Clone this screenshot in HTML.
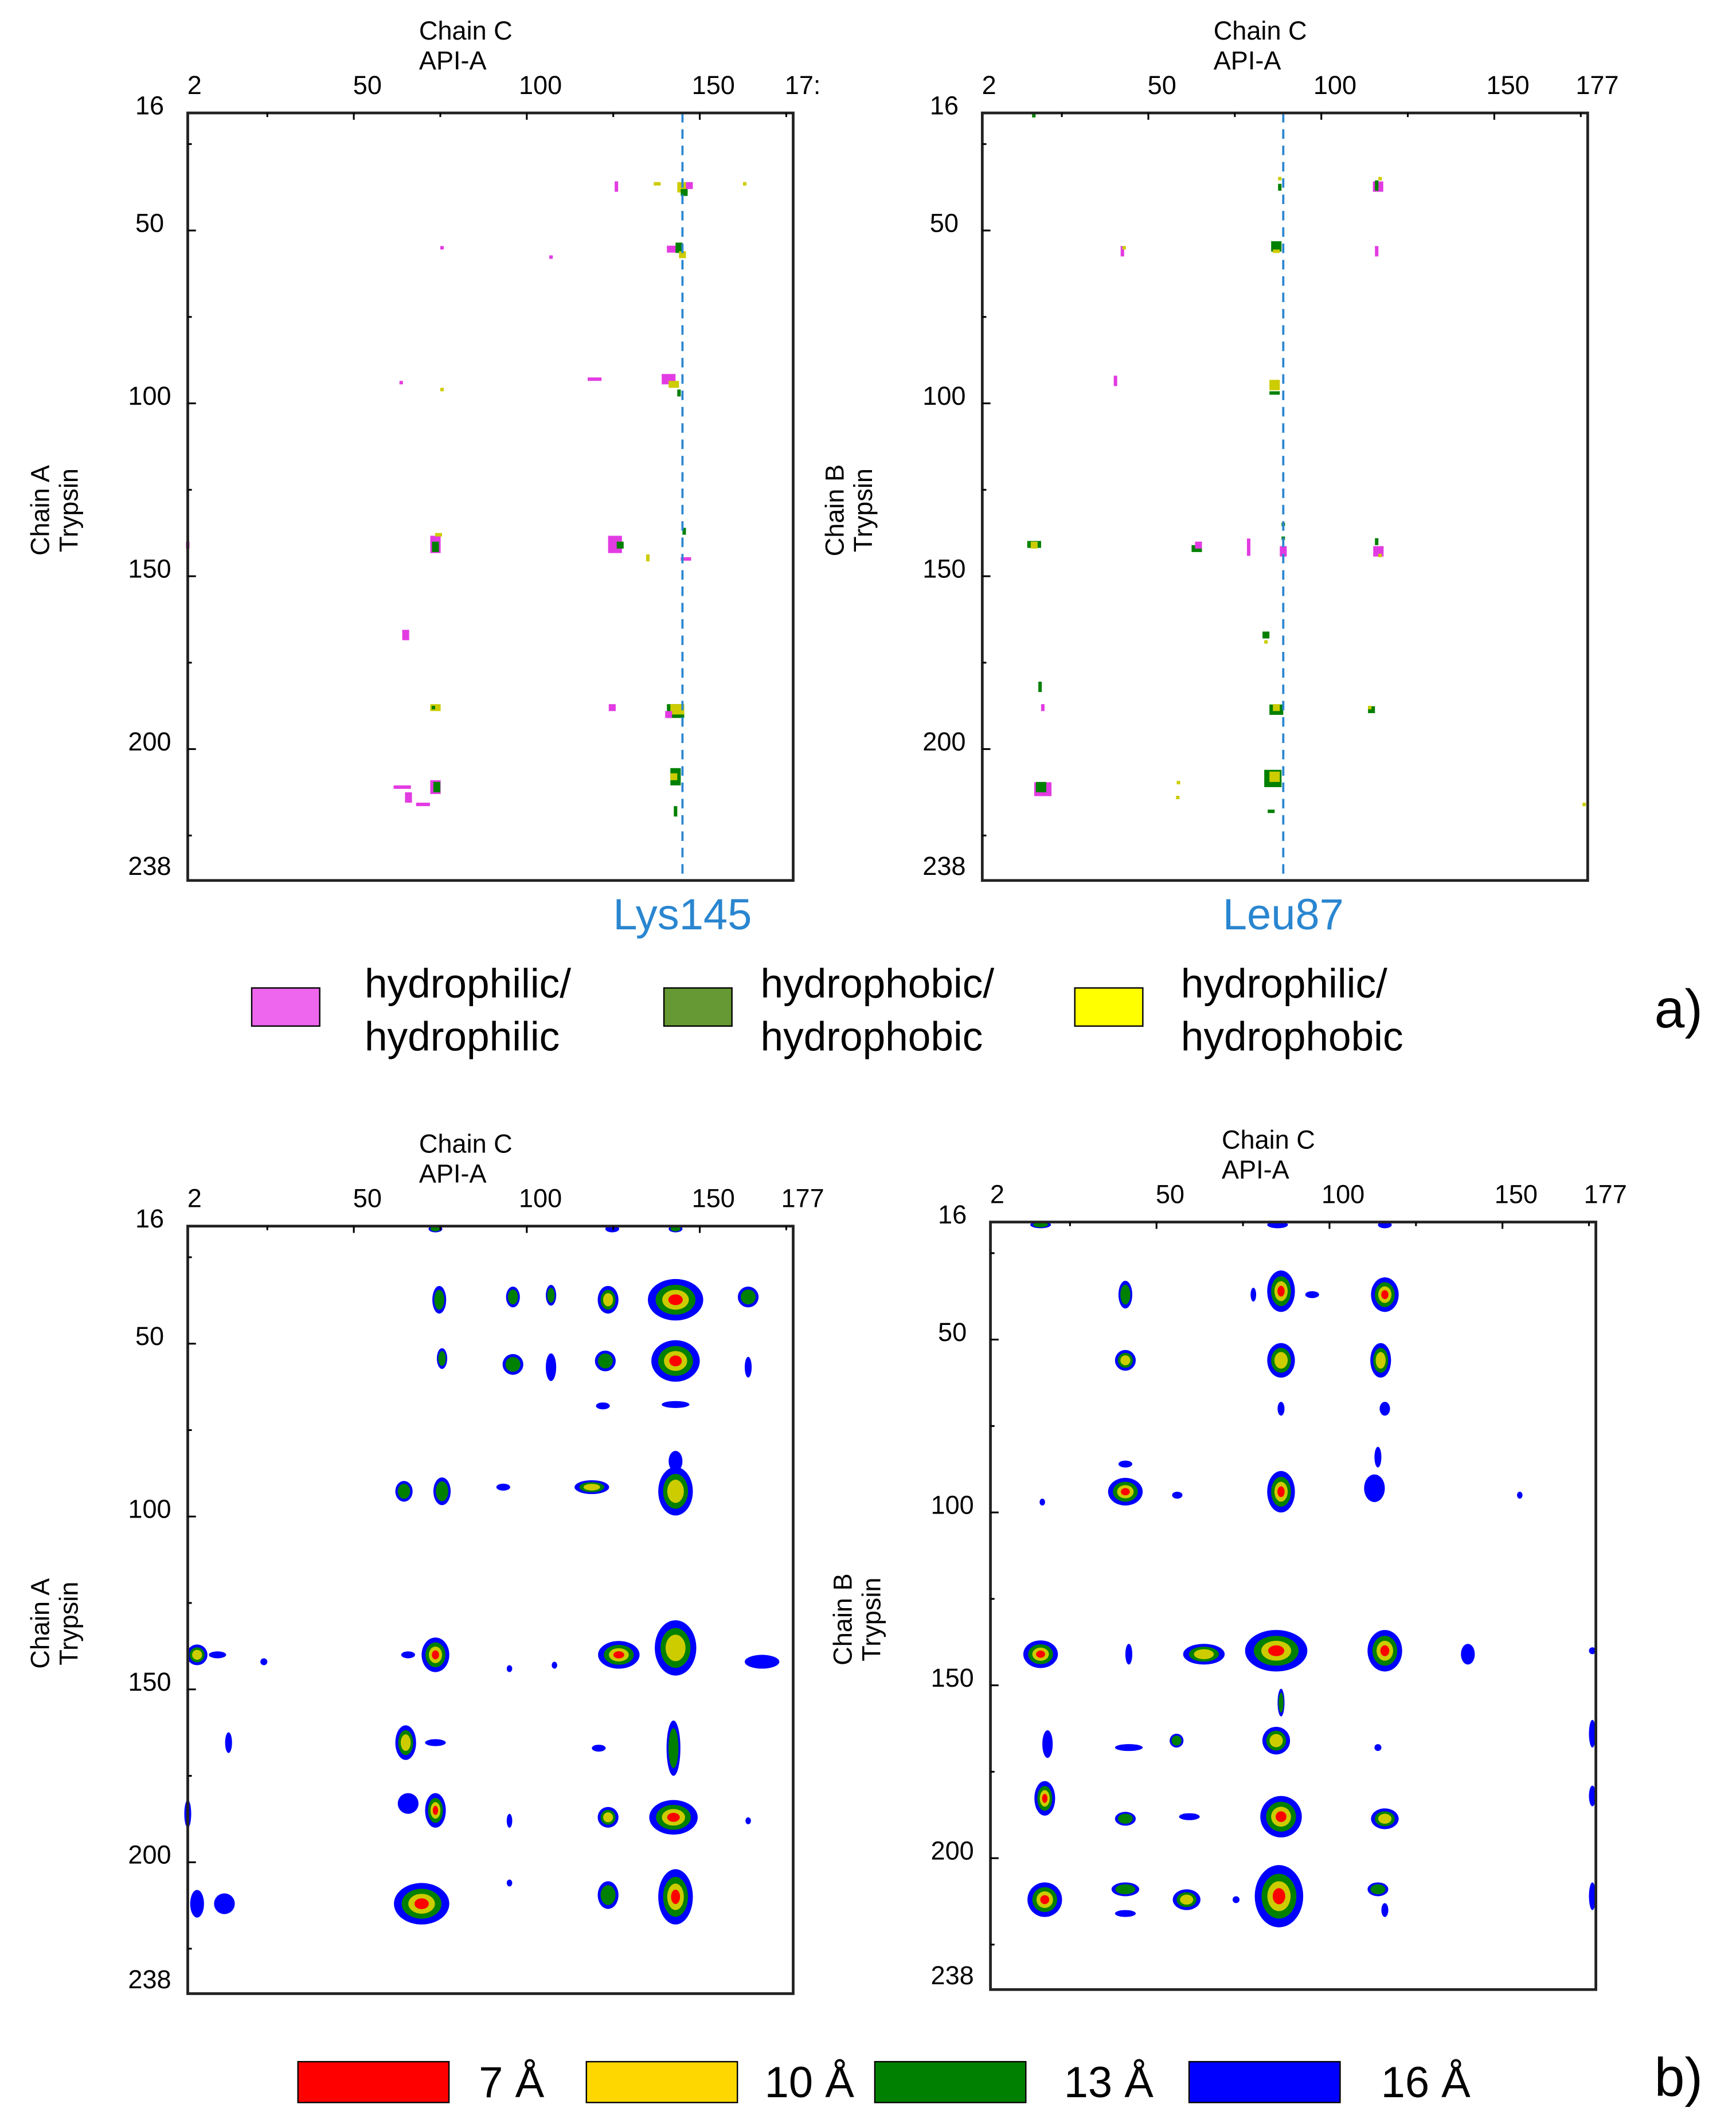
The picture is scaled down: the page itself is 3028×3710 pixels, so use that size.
<!DOCTYPE html>
<html><head><meta charset="utf-8"><style>
html,body{margin:0;padding:0;background:#fff}
svg{display:block}
text{font-family:"Liberation Sans","DejaVu Sans",sans-serif}
</style></head><body>
<svg id="fig" xmlns="http://www.w3.org/2000/svg" width="3028" height="3710" viewBox="0 0 1276 1563" preserveAspectRatio="none">
<g id="layer"></g>
<g font-size="30">
<rect x="185" y="726" width="50" height="28" fill="#ee66ee" stroke="#000" stroke-width="1"/>
<text x="268" y="733">hydrophilic/</text>
<text x="268" y="772">hydrophilic</text>
<rect x="488" y="726" width="50" height="28" fill="#669933" stroke="#000" stroke-width="1"/>
<text x="559" y="733">hydrophobic/</text>
<text x="559" y="772">hydrophobic</text>
<rect x="790" y="726" width="50" height="28" fill="#ffff00" stroke="#000" stroke-width="1"/>
<text x="868" y="733">hydrophilic/</text>
<text x="868" y="772">hydrophobic</text>
<text x="1216" y="755" font-size="40">a)</text>
</g>
<g font-size="32">
<rect x="219" y="1515" width="111" height="30" fill="#ff0000" stroke="#000" stroke-width="1"/>
<text x="352" y="1541">7 Å</text>
<rect x="431" y="1515" width="111" height="30" fill="#ffd700" stroke="#000" stroke-width="1"/>
<text x="562" y="1541">10 Å</text>
<rect x="643" y="1515" width="111" height="30" fill="#008000" stroke="#000" stroke-width="1"/>
<text x="782" y="1541">13 Å</text>
<rect x="874" y="1515" width="111" height="30" fill="#0000ff" stroke="#000" stroke-width="1"/>
<text x="1015" y="1541">16 Å</text>
<text x="1216" y="1540" font-size="40">b)</text>
</g>
</svg>
<script>
const xTicks=[2,50,100,150,177];
const yTicks=[16,50,100,150,200,238];
// panel a contacts: [xRes, yRes, wRes, hRes, type]  p=hydrophilic/hydrophilic g=hydrophobic/hydrophobic y=mixed
const contactsAL=[[125.9,37.3,1,3,'p'],[137.7,36.5,2,1,'y'],[145,37.5,3,3,'y'],[147,37,2,2,'p'],[145.5,39,2,2,'g'],[163,36.5,1,1,'y'],
[75.5,55,1,1,'p'],[107,57.7,1,1,'p'],[142,55.4,3,2,'p'],[144,55,2,3,'g'],[145,57,2,2,'y'],[63.7,94,1,1,'p'],[75.5,96,1,1,'y'],
[119.6,93,4,1,'p'],[141,93,4,3,'p'],[142.5,94.5,3,2,'y'],[144,97,1,2,'g'],[73.6,140.8,3,5,'p'],[73.6,141.5,2,3,'g'],[74.5,138,2,1,'y'],
[125.5,140.8,4,5,'p'],[127,141,2,2,'g'],[135,144.7,1,2,'y'],[145.5,137,1,2,'g'],[146,145,3,1,'p'],[65,167,2,3,'p'],
[73.6,188,3,2,'y'],[73,188,1,1,'g'],[124.7,188,2,2,'p'],[143,189,5,4,'g'],[143.5,188.5,4,3,'y'],[141,190,2,2,'p'],
[64,211,5,1,'p'],[65.8,214,2,3,'p'],[73.6,211,3,4,'p'],[74,211,2,3,'g'],[70,216,4,1,'p'],[143,208,3,5,'g'],[142.5,208,2,2,'y'],[143,218,1,3,'g'],[2,141,1,2,'p']];
const contactsAR=[[16.9,16.8,1,1,'g'],[88,35,1,1,'y'],[88,37.5,1,2,'g'],[116.4,37.3,3,3,'p'],[116,37,1,3,'g'],[117,35,1,1,'y'],
[42.5,56,1,3,'p'],[43,55,1,1,'y'],[87,54.6,3,3,'g'],[87,56,2,1,'y'],[116,56,1,3,'p'],[40.5,93.5,1,3,'p'],[86.5,94.7,3,3,'y'],[86.5,97,3,1,'g'],
[17,140.8,4,2,'g'],[17,141,2,2,'y'],[64,142,3,2,'g'],[64.5,141,2,2,'p'],[79,141.6,1,5,'p'],[89,142.8,2,3,'p'],[89,139,1,1,'g'],[89,135,1,1,'g'],
[116.5,142.8,3,3,'p'],[116,140,1,2,'g'],[117,144,1,1,'y'],[84,167,2,2,'g'],[84,169,1,1,'y'],[18.7,182,1,3,'g'],[19.5,188,1,2,'p'],
[87,188.6,4,3,'g'],[87,188,2,2,'y'],[114.5,188.6,2,2,'g'],[114,188,1,1,'y'],[19.5,211.6,5,4,'p'],[19,211,3,3,'g'],[58.7,209.7,1,1,'y'],
[58.5,214,1,1,'y'],[86,208.5,5,5,'g'],[86.5,208,3,3,'y'],[85.5,218,2,1,'g'],[176,216,1,1,'y']];
// panel b blobs: [xRes, yRes, rxRes, ryRes, innermostLevel] 0=16Å 1=13Å 2=10Å 3=7Å
const blobsBL=[[73.6,16.8,2,1,1],[124.7,16.8,2,1,0],[143,16.8,2,1,1],[74.7,37.3,2,4,1],[96,36.5,2,3,1],[107,36,1.5,3,1],[123.5,37.3,3,4,2],
[143,37.3,8,6,3],[164,36.5,3,3,1],[75.5,54.3,1.5,3,1],[96,56,3,3,1],[107,56.8,1.5,4,0],[122.7,55,3,3,1],[143,55,7,6,3],[164,56.8,1,3,0],
[143,67.6,4,1,0],[122,68,2,1,0],[64.5,92.7,2.5,3,1],[75.5,92.7,2.5,4,1],[93.2,91.5,2,1,0],[118.8,91.5,5,2,2],[143,92.7,5,7,2],[143,84,2,3,0],
[4.7,140,3,3,2],[10.6,140,2.5,1,0],[24,142,1,1,0],[73.6,140,4,5,3],[65.7,140,2,1,0],[95,144,0.8,1,0],[108,143,0.8,1,0],
[126.6,140,6,4,3],[143,138,6,8,2],[168,142,5,2,0],[65,165.4,3,5,2],[73.6,165.4,3,1,0],[13.8,165.4,1,3,0],[120.8,167,2,1,0],[142.4,167,2,8,1],
[65.7,183,3,3,0],[73.6,185,3,5,3],[123.5,187,3,3,2],[142.4,187,7,5,3],[95,188,0.8,2,0],[164,188,0.8,1,0],[2,186,1,4,0],
[4.7,212,2,4,0],[12.6,212,3,3,0],[69.6,212,8,6,3],[123.5,209.5,3,4,1],[143,210,5,8,3],[95,206,0.8,1,0]];
const blobsBR=[[16.5,16.8,3,1,1],[85,16.8,3,1,0],[116,16.8,2,1,0],[41,37,2,4,1],[86,36,4,6,3],[116,37,4,5,3],[78,37,0.8,2,0],[95,37,2,1,0],
[41,56,3,3,2],[86,56,4,5,2],[114.8,56,3,5,2],[116,70,1.5,2,0],[86,70,1,2,0],[41,94,5,4,3],[86,94,4,6,3],[113,93,3,4,0],[114,84,1,3,0],[41,86,2,1,0],[56,95,1.5,1,0],[17,97,0.8,1,0],[155,95,0.8,1,0],
[16.5,141,5,4,3],[42,141,1,3,0],[63.7,141,6,3,2],[84.6,140,9,6,3],[116,140,5,6,3],[140,141,2,3,0],[176,140,1,1,0],
[18.5,167,1.5,4,0],[42,168,4,1,0],[55.8,166,2,2,1],[84.6,166,4,4,2],[86,155,1,4,1],[114,168,1,1,0],[176,164,1,4,0],
[17.7,182.7,3,5,3],[41,188.6,3,2,1],[59.5,188,3,1,0],[86,188,6,6,3],[116,188.6,4,3,2],[176,182,1,3,0],
[17.7,212,5,5,3],[41,209,4,2,1],[41,216,3,1,0],[58.7,212,4,3,2],[85.4,211,7,9,3],[114,209,3,2,1],[116,215,1,2,0],[176,211,1,4,0],[73,212,1,1,0]];

const NS='http://www.w3.org/2000/svg';
const root=document.getElementById('layer');
function mk(tag,attrs,parent){const e=document.createElementNS(NS,tag);for(const k in attrs)e.setAttribute(k,attrs[k]);parent.appendChild(e);return e;}
const PW=445, PH=564;
function scales(ox,oy){return {x:v=>ox+(v-2)/(177-2)*PW, y:v=>oy+(v-16)/(238-16)*PH, kx:PW/175, ky:PH/222};}
const typeColor={p:'#e23be2',g:'#008000',y:'#cccc00'};
const levelColor=['#0000ff','#008000','#cccc00','#ff0000'];
const levelScale=[1,0.72,0.48,0.26];

function axes(g,ox,oy,yl1,yl2,clip177){
  const s=scales(ox,oy);
  const t1=mk('text',{x:ox+170,y:oy-54,'font-size':19},g);t1.textContent='Chain C';
  
  const t2=mk('text',{x:ox+170,y:oy-32,'font-size':19},g);t2.textContent='API-A';
  
  const yt=mk('text',{transform:`translate(${ox-102},${oy+292}) rotate(-90)`,'font-size':19,'text-anchor':'middle'},g);
  yt.innerHTML=`<tspan x="0" dy="0">${yl1}</tspan><tspan x="0" dy="21">${yl2}</tspan>`;
  
  for(let v=25;v<=175;v+=25){const x=s.x(v);const l=mk('line',{x1:x,x2:x,y1:oy,y2:oy+(v%50?3:5),stroke:'#000','stroke-width':1.3},g);
    }
  for(let v=25;v<=225;v+=25){const y=s.y(v);const l=mk('line',{x1:ox,x2:ox+(v%50?3:6),y1:y,y2:y,stroke:'#000','stroke-width':1.3},g);
    }
  xTicks.forEach(v=>{const t=mk('text',{x:s.x(v)+(v==2?5:v==177?7:10),y:oy-14,'font-size':19,'text-anchor':'middle'},g);
    t.textContent=(v==177&&clip177)?'17:':String(v);
    });
  yTicks.forEach(v=>{const t=mk('text',{x:ox-28,y:s.y(v)+(v==16?1:v==238?-4:1),'font-size':19,'text-anchor':'middle'},g);
    t.textContent=String(v);
    });
}
function frame(g,ox,oy){const r=mk('rect',{x:ox,y:oy,width:PW,height:PH,fill:'none',stroke:'#222','stroke-width':2},g);
  }

function panelA(ox,oy,data,yl1,yl2,marker,markerLabel,clip,name){
  const g=mk('g',{},root);
  const s=scales(ox,oy);
  data.forEach(d=>{const r=mk('rect',{x:s.x(d[0])-d[2]*s.kx/2,y:s.y(d[1])-d[3]*s.ky/2,width:d[2]*s.kx,height:d[3]*s.ky,fill:typeColor[d[4]]},g);
    });
  const mx=s.x(marker);
  const dl=mk('line',{x1:mx,x2:mx,y1:oy,y2:oy+PH,stroke:'#2a86d0','stroke-width':1.6,'stroke-dasharray':'7,5'},g);
  
  const ml=mk('text',{x:mx,y:oy+PH+36,'font-size':32,fill:'#2a86d0','text-anchor':'middle'},g);ml.textContent=markerLabel;
  
  frame(g,ox,oy);axes(g,ox,oy,yl1,yl2,clip);
}
function panelB(ox,oy,data,yl1,yl2,name){
  const g=mk('g',{},root);
  const s=scales(ox,oy);
  data.forEach(d=>{for(let L=0;L<=d[4];L++){const e=mk('ellipse',{cx:s.x(d[0]),cy:s.y(d[1]),rx:Math.max(1.2,d[2]*s.kx*levelScale[L]),ry:Math.max(1.2,d[3]*s.ky*levelScale[L]),fill:levelColor[L]},g);
    }});
  frame(g,ox,oy);axes(g,ox,oy,yl1,yl2,false);
}
panelA(138,83,contactsAL,'Chain A','Trypsin',145,'Lys145',true,'panel-a-chainA');
panelA(722,83,contactsAR,'Chain B','Trypsin',89,'Leu87',false,'panel-a-chainB');
panelB(138,901,blobsBL,'Chain A','Trypsin','panel-b-chainA');
panelB(728,898,blobsBR,'Chain B','Trypsin','panel-b-chainB');
</script>
</body></html>
